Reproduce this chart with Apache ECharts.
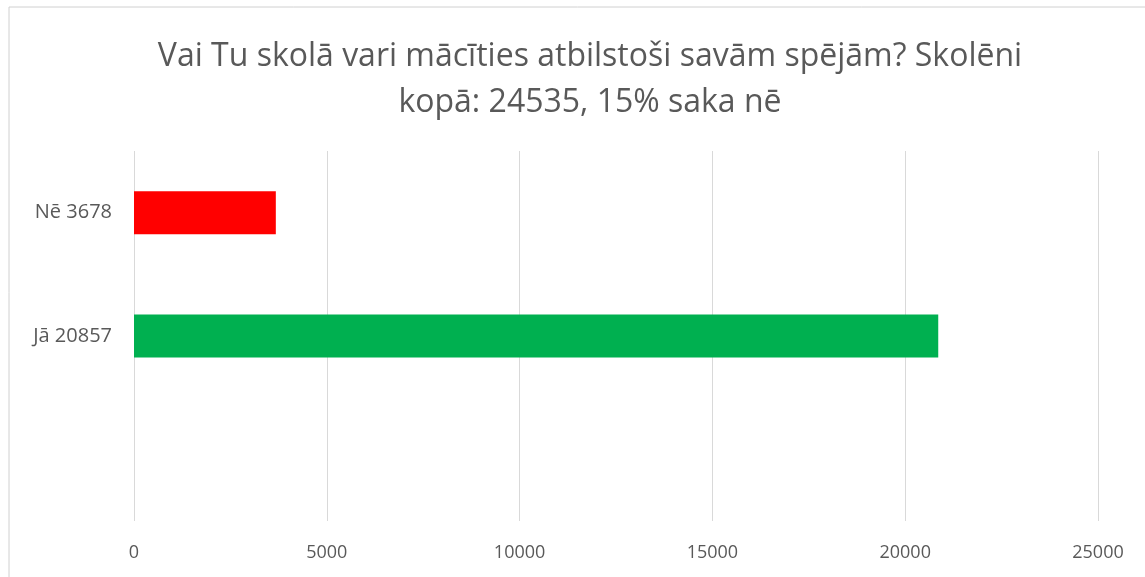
<!DOCTYPE html>
<html>
<head>
<meta charset="utf-8">
<script src="https://cdn.jsdelivr.net/npm/echarts@6/dist/echarts.min.js"></script>
<style>
html,body{margin:0;padding:0;background:#fff;}
#chart{width:1145px;height:577px;}
</style>
</head>
<body>
<div id="chart"></div>
<script>
var categories=['','Jā 20857','Nē 3678'];
var values=['',20857,3678];
var barColors=['#ffffff','#00b050','#ff0000'];
var titleText='Vai Tu skolā vari mācīties atbilstoši savām spējām? Skolēni\nkopā: 24535, 15% saka nē';

var myChart=echarts.init(document.getElementById('chart'));
var option={
    animation:false,
    textStyle:{fontFamily:'Open Sans'},
    title:{
        left:585,
        textAlign:'center',
        top:29,
        text:titleText,
        textStyle:{
            fontSize:32,
            fontWeight:'normal',
            color:'#595959',
            lineHeight:46,
            fontFamily:'Open Sans'
        }
    },
    graphic:[{
        type:'rect',
        shape:{x:9,y:7,width:1300,height:700},
        style:{fill:'none',stroke:'#d0d0d0',lineWidth:1}
    }],
    grid:{left:134,right:47,top:151,bottom:56},
    xAxis:{
        type:'value',
        min:0,
        max:25000,
        interval:5000,
        axisLine:{show:false},
        axisTick:{show:false},
        axisLabel:{
            color:'#595959',
            fontSize:18,
            margin:23,
            formatter:function(v){return String(v);}
        },
        splitLine:{lineStyle:{color:'#d9d9d9',width:1}}
    },
    yAxis:{
        type:'category',
        data:categories,
        axisLine:{show:false},
        axisTick:{show:false},
        axisLabel:{color:'#595959',fontSize:20,margin:22}
    },
    series:[{
        type:'bar',
        barWidth:43,
        data:values.map(function(v,i){
            return {value:v,itemStyle:{color:barColors[i]}};
        })
    }]
};
myChart.setOption(option);
</script>
</body>
</html>
